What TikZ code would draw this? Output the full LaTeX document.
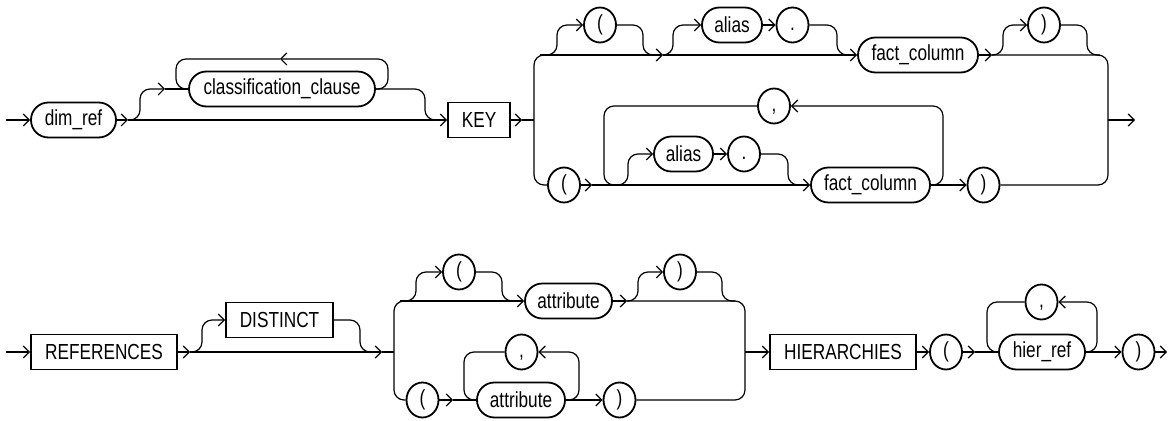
\documentclass[tikz,border=0pt]{standalone}
\usepackage{fontspec}
\setmainfont{Liberation Sans}[FakeStretch=0.79]
\usetikzlibrary{shapes.geometric, arrows.meta, positioning}

\begin{document}
\begin{tikzpicture}[x=0.5pt, y=-0.5pt, >={Straight Barb[length=3pt,width=6pt]}, line width=0.6pt,
    font=\fontsize{10.9}{12}\selectfont,
    ntbox/.style={draw, line width=0.9pt, rounded corners=8.7pt, minimum height=17.5pt, minimum width=#1, inner sep=0pt},
    kwbox/.style={draw, line width=0.9pt, rectangle, minimum height=17.5pt, minimum width=#1, inner sep=0pt},
    sym/.style={draw, line width=0.9pt, ellipse, minimum width=16pt, minimum height=17.5pt, inner sep=0pt,
        text height=7.9pt, text depth=2.3pt},
    rrbend/.style={rounded corners=5pt}]

    \useasboundingbox (0,0) rectangle (1171,421);

    % Nodes, first line
    \node (dimref) [ntbox=42.5pt] at (73.5,120) {dim\_ref};
    \node (class) [ntbox=93pt] at (282,89) {classification\_clause};
    \node (key) [kwbox=31pt] at (479,120) {KEY};
    \node (lp1) [sym] at (600,25) {(};
    \node (alias1) [ntbox=30pt] at (732,25) {alias};
    \node (dot1) [sym] at (792.5,25) {.};
    \node (fact1) [ntbox=60pt] at (918,55) {fact\_column};
    \node (rp1) [sym] at (1044,25) {)};
    \node (lp2) [sym] at (564,185) {(};
    \node (alias2) [ntbox=29.5pt] at (683.5,154) {alias};
    \node (dot2) [sym] at (744,154) {.};
    \node (comma1) [sym] at (774,106) {,};
    \node (fact2) [ntbox=59.5pt] at (870.5,185) {fact\_column};
    \node (rp2) [sym] at (983.5,185) {)};

    % Nodes, second line
    \node (refs) [kwbox=73pt] at (104,352) {REFERENCES};
    \node (distinct) [kwbox=53.5pt] at (279.5,320) {DISTINCT};
    \node (lp3) [sym] at (459,272) {(};
    \node (attr1) [ntbox=43.5pt] at (568.5,301) {attribute};
    \node (rp3) [sym] at (680,272) {)};
    \node (lp4) [sym] at (422.5,400) {(};
    \node (comma2) [sym] at (521.5,352) {,};
    \node (attr2) [ntbox=44pt] at (521,400) {attribute};
    \node (rp4) [sym] at (619.5,400) {)};
    \node (hier) [kwbox=73pt] at (843,352) {HIERARCHIES};
    \node (lp5) [sym] at (946,352) {(};
    \node (comma3) [sym] at (1041.5,302) {,};
    \node (hierref) [ntbox=43pt] at (1042,352) {hier\_ref};
    \node (rp5) [sym] at (1138.5,352) {)};

    % Junctions
    \coordinate (in1) at (6,120);
    \coordinate (j1) at (128,120);
    \coordinate (j2) at (522,120);
    \coordinate (t1) at (663,55);
    \coordinate (t2) at (992,55);
    \coordinate (b1) at (592,185);
    \coordinate (out1) at (1135,120);
    \coordinate (in2) at (6,352);
    \coordinate (r1) at (190,352);
    \coordinate (r2) at (382,352);
    \coordinate (a1) at (627,301);
    \coordinate (b2) at (453,400);
    \coordinate (h1) at (975,352);
    \coordinate (out2) at (1167,352);

    % Links, first line
    \draw[->] (in1) -- (dimref);
    \draw[->] (dimref) -- (j1);
    \draw[->] (j1) -- (key);
    \draw[->, rrbend] (j1) -- (140,120) -- (140,89) -- (165,89);
    \draw (165,89) -- (class);
    \draw[->, rrbend] (class.east) -- (388,89) -- (388,59) -- (280,59);
    \draw[rrbend] (280,59) -- (176,59) -- (176,89) -- (186,89);
    \draw[rrbend] (class.east) -- (425,89) -- (425,120) -- (438,120);
    \draw[->] (key) -- (j2);
    \draw (j2) -- (534,120);
    \draw[rrbend] (560,55) -- (534,55) -- (534,185) -- (lp2.west);
    \draw[->] (540,55) -- (t1);
    \draw[->] (t1) -- (fact1);
    \draw[->, rrbend] (545,55) -- (557,55) -- (557,25) -- (lp1.west);
    \draw[rrbend] (lp1.east) -- (643,25) -- (643,55) -- (655,55);
    \draw[->, rrbend] (t1) -- (673,55) -- (673,25) -- (alias1.west);
    \draw[->] (alias1) -- (dot1);
    \draw[rrbend] (dot1.east) -- (837,25) -- (837,55) -- (850,55);
    \draw[->] (fact1) -- (t2);
    \draw[->, rrbend] (t2) -- (1003,55) -- (1003,25) -- (rp1.west);
    \draw[rrbend] (rp1.east) -- (1087,25) -- (1087,55) -- (1100,55);
    \draw[rrbend] (t2) -- (1108,55) -- (1108,185) -- (rp2.east);
    \draw[->] (1108,120) -- (out1);
    \draw[->] (lp2) -- (b1);
    \draw[->] (b1) -- (fact2);
    \draw[->, rrbend] (fact2.east) -- (943,185) -- (943,106) -- (comma1.east);
    \draw[rrbend] (comma1.west) -- (604,106) -- (604,185) -- (615,185);
    \draw[->, rrbend] (614,185) -- (628,185) -- (628,154) -- (alias2.west);
    \draw[->] (alias2) -- (dot2);
    \draw[rrbend] (dot2.east) -- (788,154) -- (788,185) -- (800,185);
    \draw[->] (fact2) -- (rp2);

    % Links, second line
    \draw[->] (in2) -- (refs);
    \draw[->] (refs) -- (r1);
    \draw[->] (r1) -- (r2);
    \draw[->, rrbend] (r1) -- (202,352) -- (202,320) -- (distinct.west);
    \draw[rrbend] (distinct.east) -- (360,320) -- (360,352) -- (372,352);
    \draw (r2) -- (394,352);
    \draw[rrbend] (420,301) -- (394,301) -- (394,400) -- (lp4.west);
    \draw[->] (400,301) -- (attr1);
    \draw[->, rrbend] (404,301) -- (416,301) -- (416,272) -- (lp3.west);
    \draw[rrbend] (lp3.east) -- (502,272) -- (502,301) -- (514,301);
    \draw[->] (attr1) -- (a1);
    \draw[->, rrbend] (a1) -- (638,301) -- (638,272) -- (rp3.west);
    \draw[rrbend] (rp3.east) -- (722,272) -- (722,301) -- (735,301);
    \draw[rrbend] (a1) -- (745,301) -- (745,400) -- (rp4.east);
    \draw[->] (745,352) -- (hier);
    \draw[->] (lp4) -- (b2);
    \draw (b2) -- (attr2);
    \draw[->, rrbend] (attr2.east) -- (579,400) -- (579,352) -- (comma2.east);
    \draw[rrbend] (comma2.west) -- (464,352) -- (464,400) -- (475,400);
    \draw[->] (attr2) -- (rp4);
    \draw[->] (hier) -- (lp5);
    \draw[->] (lp5) -- (h1);
    \draw (h1) -- (hierref);
    \draw[->, rrbend] (hierref.east) -- (1097,352) -- (1097,302) -- (comma3.east);
    \draw[rrbend] (comma3.west) -- (987,302) -- (987,352) -- (997,352);
    \draw[->] (hierref) -- (rp5);
    \draw[->] (rp5) -- (out2);
\end{tikzpicture}
\end{document}
